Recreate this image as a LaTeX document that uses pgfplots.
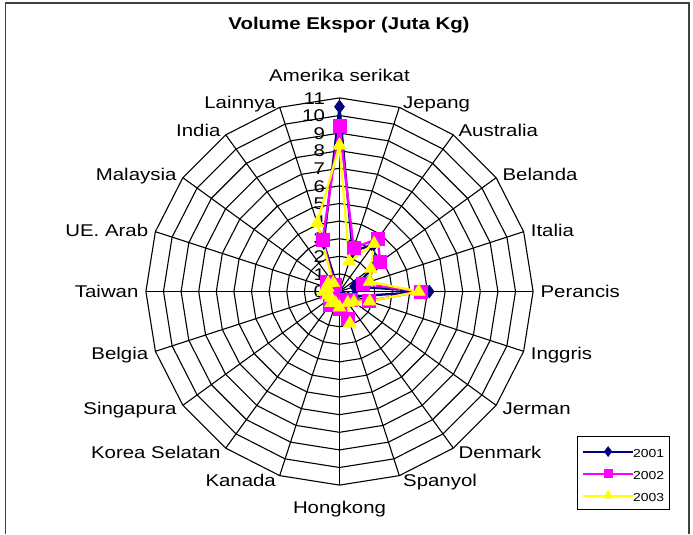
\documentclass[border=0pt]{standalone}
\usepackage{fontspec}
\setmainfont{Liberation Sans}[FakeStretch=1.2]
\usepackage{pgfplots}
\usepackage{pgfplotstable}
\pgfplotsset{compat=1.18}
\definecolor{navy}{RGB}{0,0,128}
\definecolor{mag}{RGB}{255,0,255}
\definecolor{yel}{RGB}{255,255,0}

% angle (deg, counter-clockwise from right) and values per year
\pgfplotstableread{
ang   y2001 y2002 y2003
90    10.5  9.4   8.3
72    2.4   2.6   1.8
54    3.3   3.7   3.35
36    2.5   2.85  2.2
18    0.9   1.4   1.8
0     5.1   4.6   4.5
-18   0.9   1.75  1.8
-36   0.6   0.8   1.0
-54   0.4   0.6   0.8
-72   0.8   1.6   1.9
-90   0.3   1.0   0.9
-108  0.3   0.5   0.7
-126  0.4   0.9   0.8
-144  0.3   0.5   0.6
-162  0.2   0.6   0.7
-180  0.2   0.7   0.9
-198  0.2   0.6   0.7
-216  0.3   0.9   0.8
-234  0.2   0.5   0.6
-252  2.9   3.1   4.1
90    10.5  9.4   8.3
}\ekspor

\tikzset{
  lab/.style={font=\fontsize{17}{20}\selectfont, text height=12.2pt, text depth=0pt, inner xsep=2pt, inner ysep=0pt},
}

\begin{document}
\begin{tikzpicture}
\path (0pt,0pt) rectangle (693pt,534pt);
\draw[line width=1.6pt, black!75] (5.5pt,0pt) -- (5.5pt,531pt) -- (689pt,531pt) -- (689pt,0pt);
\node[font=\fontsize{17}{20}\selectfont\bfseries, anchor=base] at (349pt,504pt) {Volume Ekspor (Juta Kg)};

\begin{axis}[
  at={(0pt,0pt)}, anchor=south west,
  x=17.6pt, y=17.6pt,
  xmin=-19.290, xmax=20.085,
  ymin=-13.778, ymax=16.5625,
  hide axis, clip=false,
  legend style={at={(axis description cs:0.833,0.183)}, anchor=north west,
    draw=black, line width=0.9pt, fill=white,
    inner xsep=5.4pt, inner ysep=8.3pt, row sep=9.6pt,
    font=\fontsize{11.6}{13}\selectfont,
    nodes={inner sep=0pt, text height=8.3pt, text depth=0pt},
    /tikz/every even column/.append style={column sep=3.3pt}},
  legend cell align=left,
  legend image code/.code={%
    \begin{pgfinterruptboundingbox}
    \draw[mark repeat=2,mark phase=2,#1] plot coordinates {(0pt,1.8pt) (25pt,1.8pt) (50pt,1.8pt)};
    \end{pgfinterruptboundingbox}
    \path[draw=none, fill=none] (0pt,0pt) rectangle (50pt,8.3pt);},
]
% polygon grid
\pgfplotsinvokeforeach{1,...,11}{
  \draw[black, line width=1.1pt] (axis cs:#1,0) \foreach \a in {18,36,...,342} { -- (axis cs:{#1*cos(\a)},{#1*sin(\a)}) } -- cycle;
}
\pgfplotsinvokeforeach{0,18,...,342}{
  \draw[black, line width=1.1pt] (axis cs:0,0) -- (axis cs:{11*cos(#1)},{11*sin(#1)});
}
% radial scale
\pgfplotsinvokeforeach{0,...,11}{
  \node[lab, anchor=east, inner xsep=0pt] at (axis cs:-0.82,#1) {#1};
}
% category labels
\path \foreach \a/\t in {72/Jepang, 54/Australia, 36/Belanda, 18/Italia, 0/Perancis, -18/Inggris, -36/Jerman, -54/Denmark, -72/Spanyol}
  { (axis cs:{11.3*cos(\a)},{11.3*sin(\a)}) node[lab, anchor=west] {\t} };
\path \foreach \a/\t in {-108/Kanada, -126/Korea Selatan, -144/Singapura, -162/Belgia, -180/Taiwan, -198/UE. Arab, -216/Malaysia, -234/India, -252/Lainnya}
  { (axis cs:{11.3*cos(\a)},{11.3*sin(\a)}) node[lab, anchor=east] {\t} };
\node[lab, anchor=south] at (axis cs:0,11.91) {Amerika serikat};
\node[lab, anchor=north] at (axis cs:0,-11.91) {Hongkong};

% data
\addplot[navy, line width=2.3pt, data cs=polar, mark=diamond*, mark size=6.5pt, mark options={solid, fill=navy, draw=navy, line width=0.5pt}, forget plot]
  table[x=ang, y=y2001] {\ekspor};
\addplot[mag, line width=2.3pt, data cs=polar, mark=square*, mark size=6.5pt, mark options={solid, fill=mag, draw=mag, line width=0.5pt}, forget plot]
  table[x=ang, y=y2002] {\ekspor};
\addplot[yel, line width=2.3pt, data cs=polar, mark=triangle*, mark size=7.5pt, mark options={solid, fill=yel, draw=yel, line width=0.5pt}, forget plot]
  table[x=ang, y=y2003] {\ekspor};

\addlegendimage{navy, line width=2pt, mark=diamond*, mark size=5pt, mark options={fill=navy, draw=navy, line width=0.5pt}}
\addlegendentry{2001\hspace{1pt}}
\addlegendimage{mag, line width=2pt, mark=square*, mark size=4pt, mark options={fill=mag, draw=mag, line width=0.5pt}}
\addlegendentry{2002\hspace{1pt}}
\addlegendimage{yel, line width=2pt, mark=triangle*, mark size=5.2pt, mark options={fill=yel, draw=yel, line width=0.5pt}}
\addlegendentry{2003\hspace{1pt}}
\end{axis}
\end{tikzpicture}
\end{document}
